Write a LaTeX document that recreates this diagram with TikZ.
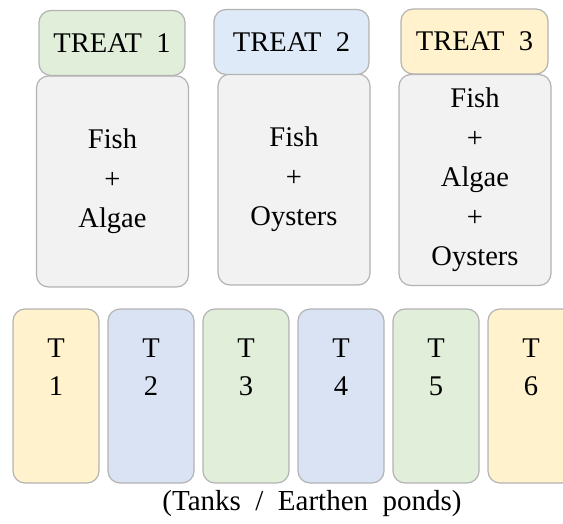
\documentclass[tikz,border=0pt]{standalone}
\usepackage{fontspec}
\setmainfont{Liberation Serif}
\usepackage{tikz}

\definecolor{treatgreen}{HTML}{E1EED9}
\definecolor{treatblue}{HTML}{DEEAF7}
\definecolor{treatyellow}{HTML}{FFF2CC}
\definecolor{tankblue}{HTML}{DAE3F3}
\definecolor{bodygray}{HTML}{F2F2F2}
\definecolor{edgegray}{HTML}{B3B3B3}

\begin{document}
\begin{tikzpicture}[x=1pt,y=-1pt]
          \tikzset{BoxStyle/.style = {
              draw = edgegray,
              line width = 1.2pt,
              rounded corners = 12pt,
              inner sep = 0pt,
              align = center,
              font = \fontsize{28.5}{39.5}\selectfont},
            HeadStyle/.style = {BoxStyle, minimum height = 65pt},
            BodyStyle/.style = {BoxStyle, fill = bodygray, minimum height = 211pt, minimum width = 152pt},
            TankStyle/.style = {BoxStyle, minimum width = 86pt, minimum height = 174pt},
            TankLabel/.style = {align = center, anchor = north, yshift = -30pt, inner sep = 0pt,
              font = \fontsize{28.5}{38}\selectfont}}
          \useasboundingbox (0,0) rectangle (563,524);
          \clip (0,0) rectangle (563,524);
          % treatments
          \node[BodyStyle] (body1) at (112.5,181.5) {Fish\\+\\Algae};
          \node[HeadStyle, fill=treatgreen, minimum width=146pt] (treat1) at (112,43) {TREAT\ \ 1};
          \node[BodyStyle] (body2) at (294,179.5) {Fish\\+\\Oysters};
          \node[HeadStyle, fill=treatblue, minimum width=155pt] (treat2) at (291.5,42) {TREAT\ \ 2};
          \node[BodyStyle] (body3) at (475,180) {Fish\\+\\Algae\\+\\Oysters};
          \node[HeadStyle, fill=treatyellow, minimum width=147pt] (treat3) at (474.5,41.5) {TREAT\ \ 3};
          % tanks
          \node[TankStyle, fill=treatyellow, label={[TankLabel]north:T\\1}] (tank1) at (56,396) {};
          \node[TankStyle, fill=tankblue, label={[TankLabel]north:T\\2}] (tank2) at (151,396) {};
          \node[TankStyle, fill=treatgreen, label={[TankLabel]north:T\\3}] (tank3) at (246,396) {};
          \node[TankStyle, fill=tankblue, label={[TankLabel]north:T\\4}] (tank4) at (341,396) {};
          \node[TankStyle, fill=treatgreen, label={[TankLabel]north:T\\5}] (tank5) at (436,396) {};
          \node[TankStyle, fill=treatyellow, label={[TankLabel]north:T\\6}] (tank6) at (531,396) {};
          \node[font=\fontsize{29}{34}\selectfont] (caption) at (312,504) {(Tanks\ \ /\ \ Earthen\ \ ponds)};
        \end{tikzpicture}
\end{document}
